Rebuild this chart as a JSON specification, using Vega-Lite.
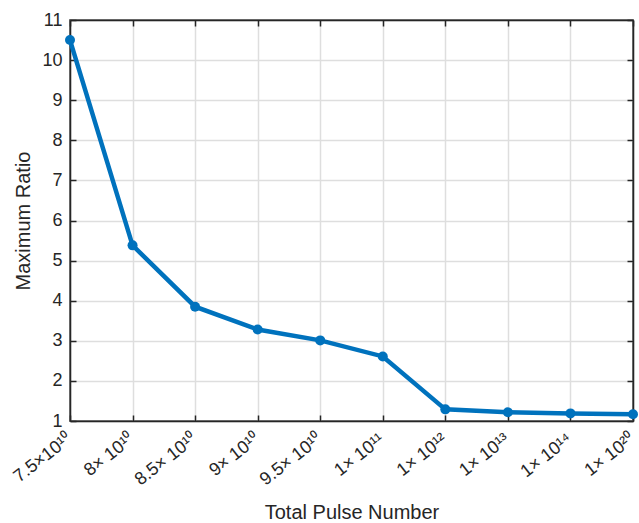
{
  "$schema": "https://vega.github.io/schema/vega-lite/v6.json",
  "width": 563,
  "height": 401,
  "autosize": {"type": "none"},
  "padding": {"left": 70, "top": 20, "right": 6, "bottom": 102},
  "background": "white",
  "config": {
    "font": "Liberation Sans",
    "view": {"stroke": "#262626", "strokeWidth": 1.5},
    "axis": {
      "labelFont": "Liberation Sans",
      "titleFont": "Liberation Sans",
      "labelColor": "#262626",
      "titleColor": "#262626",
      "labelFontSize": 18,
      "titleFontSize": 20,
      "titleFontWeight": "normal",
      "gridColor": "#dedede",
      "gridWidth": 1.5,
      "gridOpacity": 1,
      "domainColor": "#262626",
      "domainWidth": 1.5,
      "tickColor": "#262626",
      "tickWidth": 1.5,
      "tickSize": -6
    }
  },
  "data": {
    "values": [
      {"label": "7.5×10¹⁰", "ratio": 10.5},
      {"label": "8× 10¹⁰", "ratio": 5.38},
      {"label": "8.5× 10¹⁰", "ratio": 3.85},
      {"label": "9× 10¹⁰", "ratio": 3.28},
      {"label": "9.5× 10¹⁰", "ratio": 3.01},
      {"label": "1× 10¹¹", "ratio": 2.61},
      {"label": "1× 10¹²", "ratio": 1.29},
      {"label": "1× 10¹³", "ratio": 1.22},
      {"label": "1× 10¹⁴", "ratio": 1.19},
      {"label": "1× 10²⁰", "ratio": 1.17}
    ]
  },
  "resolve": {"axis": {"x": "independent", "y": "independent"}},
  "layer": [
    {
      "mark": {"type": "line", "color": "#0072BD", "strokeWidth": 4.5},
      "encoding": {
        "x": {
          "field": "label",
          "type": "ordinal",
          "sort": null,
          "scale": {"type": "point", "padding": 0},
          "axis": {
            "title": "Total Pulse Number",
            "labelAngle": -38,
            "labelAlign": "right",
            "labelBaseline": "middle",
            "labelPadding": 22,
            "labelOffset": -1,
            "titlePadding": 14,
            "grid": true
          }
        },
        "y": {
          "field": "ratio",
          "type": "quantitative",
          "scale": {"domain": [1, 11], "nice": false},
          "axis": {
            "title": "Maximum Ratio",
            "values": [1, 2, 3, 4, 5, 6, 7, 8, 9, 10, 11],
            "labelPadding": 14,
            "titlePadding": 8,
            "grid": true
          }
        }
      }
    },
    {
      "mark": {"type": "point", "filled": true, "color": "#0072BD", "size": 100, "opacity": 1},
      "encoding": {
        "x": {
          "field": "label",
          "type": "ordinal",
          "sort": null,
          "scale": {"type": "point", "padding": 0},
          "axis": {"orient": "top", "labels": false, "title": null, "grid": false}
        },
        "y": {
          "field": "ratio",
          "type": "quantitative",
          "scale": {"domain": [1, 11], "nice": false},
          "axis": {
            "orient": "right",
            "labels": false,
            "title": null,
            "grid": false,
            "values": [1, 2, 3, 4, 5, 6, 7, 8, 9, 10, 11]
          }
        }
      }
    }
  ]
}
